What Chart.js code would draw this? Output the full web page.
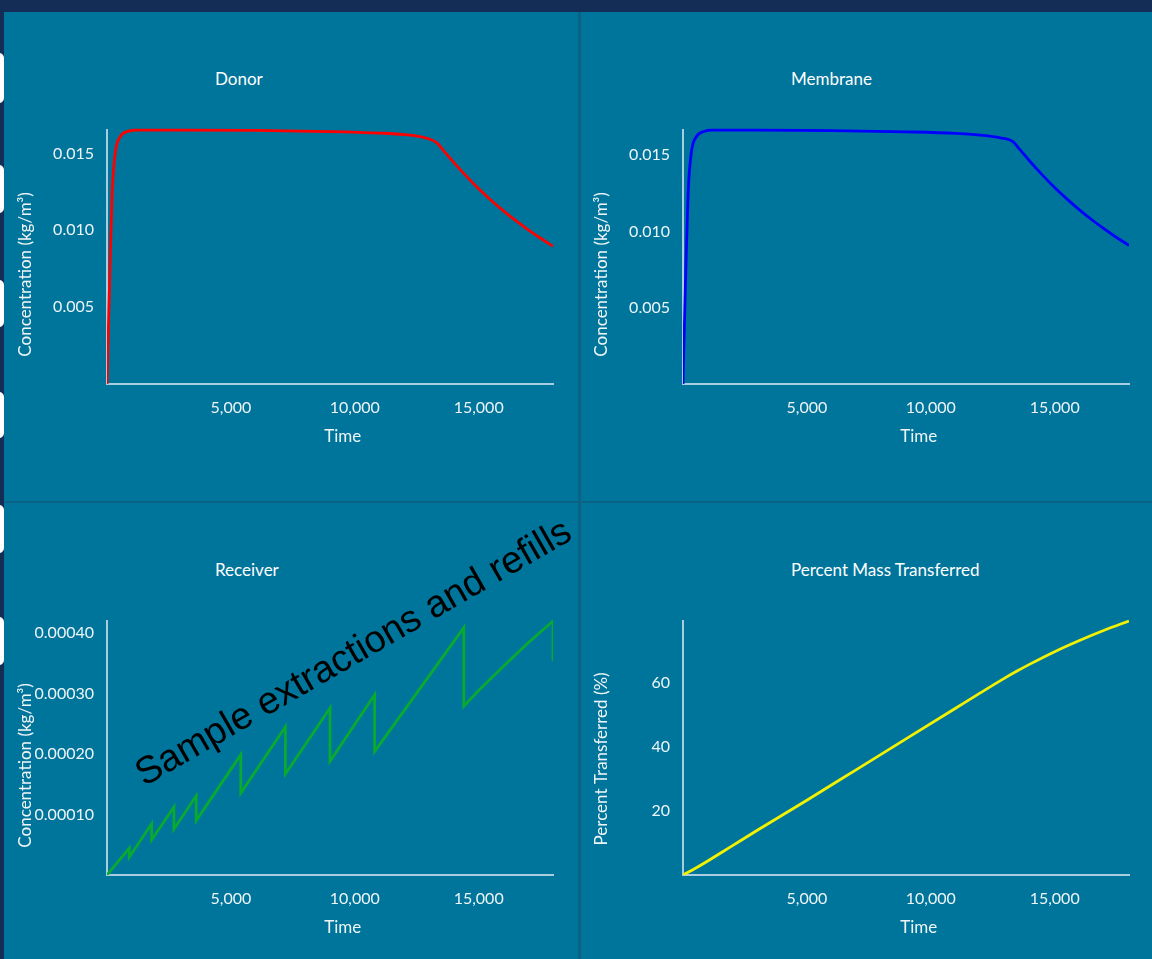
<!DOCTYPE html>
<html>
<head>
<meta charset="utf-8">
<script src="https://cdn.jsdelivr.net/npm/chart.js@4.4.1/dist/chart.umd.min.js"></script>
<style>
html,body{margin:0;padding:0;width:1152px;height:959px;overflow:hidden;background:#00759c;font-family:Lato,sans-serif;}
#topbar{position:absolute;left:0;top:0;width:1152px;height:12px;background:#132d57;}
#leftbar{position:absolute;left:0;top:0;width:4px;height:959px;background:#132d57;}
.tab{position:absolute;left:-6px;width:10px;background:#ffffff;border-radius:5px;}
.vdiv{position:absolute;left:578px;top:12px;width:3px;height:947px;background:#0b6285;}
.hdiv{position:absolute;left:4px;top:501px;width:1148px;height:2px;background:#0b6285;}
.ptitle{position:absolute;color:#ffffff;font-family:Lato,sans-serif;font-size:17px;line-height:20px;white-space:nowrap;}
canvas{position:absolute;}
</style>
</head>
<body>
<div id="topbar"></div>
<div id="leftbar"></div>
<div class="tab" style="top:53px;height:50px"></div>
<div class="tab" style="top:165px;height:48px"></div>
<div class="tab" style="top:280px;height:47px"></div>
<div class="tab" style="top:392px;height:46px"></div>
<div class="tab" style="top:505px;height:48px"></div>
<div class="tab" style="top:617px;height:48px"></div>
<div class="vdiv"></div>
<div class="hdiv"></div>

<div class="ptitle" style="left:215px;top:69px">Donor</div>
<div class="ptitle" style="left:791px;top:69px">Membrane</div>
<div class="ptitle" style="left:215px;top:560px">Receiver</div>
<div class="ptitle" style="left:791px;top:560px">Percent Mass Transferred</div>

<canvas id="donor" width="576" height="502" style="left:0;top:0"></canvas>
<canvas id="membrane" width="576" height="502" style="left:576px;top:0"></canvas>
<canvas id="receiver" width="576" height="502" style="left:0;top:491px"></canvas>
<canvas id="percent" width="576" height="502" style="left:576px;top:491px"></canvas>

<script>
// ---- tick values and labels ----
const timeTickValues = [5000, 10000, 15000];
const timeTickLabels = ['5,000', '10,000', '15,000'];
const timeMax = 18000;

const concTickValues = [0.005, 0.010, 0.015];
const concTickLabels = ['0.005', '0.010', '0.015'];

const receiverTickValues = [0.0001, 0.0002, 0.0003, 0.0004];
const receiverTickLabels = ['0.00010', '0.00020', '0.00030', '0.00040'];

const percentTickValues = [20, 40, 60];
const percentTickLabels = ['20', '40', '60'];

// ---- axis titles ----
const concTitle = 'Concentration (kg/m³)';
const percentTitle = 'Percent Transferred (%)';
const timeTitle = 'Time';

// ---- series (time in s) ----
const donorTime = [0, 40, 110, 210, 340, 540, 880, 1200, 3000, 6000, 9000, 11000, 12000, 12800, 13300, 13600, 14000, 14500, 15000, 15500, 16000, 16500, 17000, 17500, 18000];
const donorConc = [0, 0.0026, 0.0070, 0.0125, 0.0151, 0.0161, 0.01645, 0.01652, 0.01652, 0.01649, 0.01642, 0.01632, 0.01622, 0.01603, 0.0157, 0.01515, 0.0144, 0.01352, 0.0127, 0.01195, 0.01126, 0.01062, 0.01003, 0.00948, 0.00896];

const membraneTime = [0, 40, 110, 210, 340, 540, 880, 1200, 3000, 6000, 9000, 11000, 12000, 12800, 13300, 13600, 14000, 14500, 15000, 15500, 16000, 16500, 17000, 17500, 18000];
const membraneConc = [0, 0.0028, 0.0072, 0.0126, 0.0152, 0.0162, 0.01656, 0.01664, 0.01664, 0.0166, 0.01652, 0.01642, 0.0163, 0.01613, 0.0159, 0.01535, 0.01459, 0.0137, 0.01287, 0.01211, 0.01141, 0.01076, 0.01016, 0.0096, 0.00908];

const receiverTime = [0, 900, 900, 1800, 1800, 2700, 2700, 3600, 3600, 5400, 5400, 7200, 7200, 9000, 9000, 10800, 10800, 14400, 14400, 15000, 16000, 17000, 18000, 18000];
const receiverConc = [0, 0.0000443, 0.0000294, 0.0000846, 0.000058, 0.0001123, 0.0000758, 0.000131, 0.00009, 0.000199, 0.0001355, 0.000245, 0.000167, 0.000276, 0.000188, 0.000298, 0.000204, 0.000409, 0.000279, 0.000305, 0.000345, 0.000384, 0.00042, 0.000354];

const percentTime = [0, 500, 1000, 2000, 3000, 5000, 7000, 9000, 11000, 12000, 13000, 13500, 14000, 15000, 16000, 17000, 18000];
const percentValue = [0, 2.1, 4.4, 9.2, 14.0, 23.4, 33.0, 42.6, 52.2, 57.0, 61.7, 63.9, 66.0, 69.9, 73.4, 76.6, 79.5];

// ---- annotation ----
const annotationText = 'Sample extractions and refills';
const annotationAnchor = { time: 1500, conc: 0.000146 };
const annotationAngleDeg = -30;

// ---- styling ----
const tickColor = '#eef5f7';
const axisColor = '#a9cde0';
const NB = '\u00A0';

function labelFrom(values, labels) {
  return function (v) {
    const i = values.findIndex(x => Math.abs(x - v) < 1e-12);
    return i >= 0 ? labels[i] : '';
  };
}

function makeChart(id, times, values, color, smooth, yVals, yLabels, yTitle, titleShift, extraPlugins) {
  const pts = times.map((t, i) => ({ x: t, y: values[i] }));
  return new Chart(document.getElementById(id), {
    type: 'line',
    data: {
      datasets: [{
        data: pts,
        borderColor: color,
        borderWidth: 2.8,
        pointRadius: 0,
        fill: false,
        tension: 0,
        cubicInterpolationMode: smooth ? 'monotone' : 'default'
      }]
    },
    options: {
      responsive: false,
      animation: false,
      devicePixelRatio: 1,
      parsing: false,
      layout: { padding: { left: 4, top: 130, right: 23, bottom: 48 } },
      plugins: {
        legend: { display: false },
        tooltip: { enabled: false },
        title: { display: false }
      },
      scales: {
        x: {
          type: 'linear',
          min: 0,
          max: timeMax,
          bounds: 'data',
          grid: { display: false, drawTicks: false },
          border: { display: true, color: axisColor, width: 2 },
          ticks: {
            color: tickColor,
            font: { family: 'Lato', size: 16 },
            padding: 14,
            maxRotation: 0,
            autoSkip: false,
            callback: labelFrom(timeTickValues, timeTickLabels)
          },
          afterBuildTicks: s => { s.ticks = timeTickValues.map(v => ({ value: v })); },
          afterFit: s => { s.height = 70; },
          title: {
            display: true, text: NB.repeat(6) + timeTitle, color: tickColor,
            font: { family: 'Lato', size: 17 },
            padding: { top: 0, bottom: 7 }
          }
        },
        y: {
          type: 'linear',
          min: 0,
          bounds: 'data',
          grid: { display: false, drawTicks: false },
          border: { display: true, color: axisColor, width: 2 },
          ticks: {
            color: tickColor,
            font: { family: 'Lato', size: 16 },
            padding: 13,
            autoSkip: false,
            callback: labelFrom(yVals, yLabels)
          },
          afterBuildTicks: s => { s.ticks = yVals.map(v => ({ value: v })); },
          afterFit: s => { s.width = 103; },
          title: {
            display: true, text: yTitle + NB.repeat(titleShift), color: tickColor,
            font: { family: 'Lato', size: 17 },
            padding: { top: 11, bottom: 0 }
          }
        }
      }
    },
    plugins: extraPlugins || []
  });
}

const annotationPlugin = {
  id: 'annotationText',
  afterDatasetsDraw(chart) {
    const xs = chart.scales.x, ys = chart.scales.y;
    const px = xs.getPixelForValue(annotationAnchor.time);
    const py = ys.getPixelForValue(annotationAnchor.conc);
    const ctx = chart.ctx;
    ctx.save();
    ctx.translate(px, py);
    ctx.rotate(annotationAngleDeg * Math.PI / 180);
    ctx.font = '38px "Liberation Sans", Arial, sans-serif';
    ctx.fillStyle = '#000000';
    ctx.textAlign = 'left';
    ctx.textBaseline = 'alphabetic';
    ctx.fillText(annotationText, 0, 0);
    ctx.restore();
  }
};

Chart.defaults.font.family = 'Lato';

makeChart('donor', donorTime, donorConc, '#ff0000', true, concTickValues, concTickLabels, concTitle, 8);
makeChart('membrane', membraneTime, membraneConc, '#0000ff', true, concTickValues, concTickLabels, concTitle, 8);
makeChart('receiver', receiverTime, receiverConc, '#08aa30', false, receiverTickValues, receiverTickLabels, concTitle, 8, [annotationPlugin]);
makeChart('percent', percentTime, percentValue, '#f2f200', true, percentTickValues, percentTickLabels, percentTitle, 5);
</script>
</body>
</html>
